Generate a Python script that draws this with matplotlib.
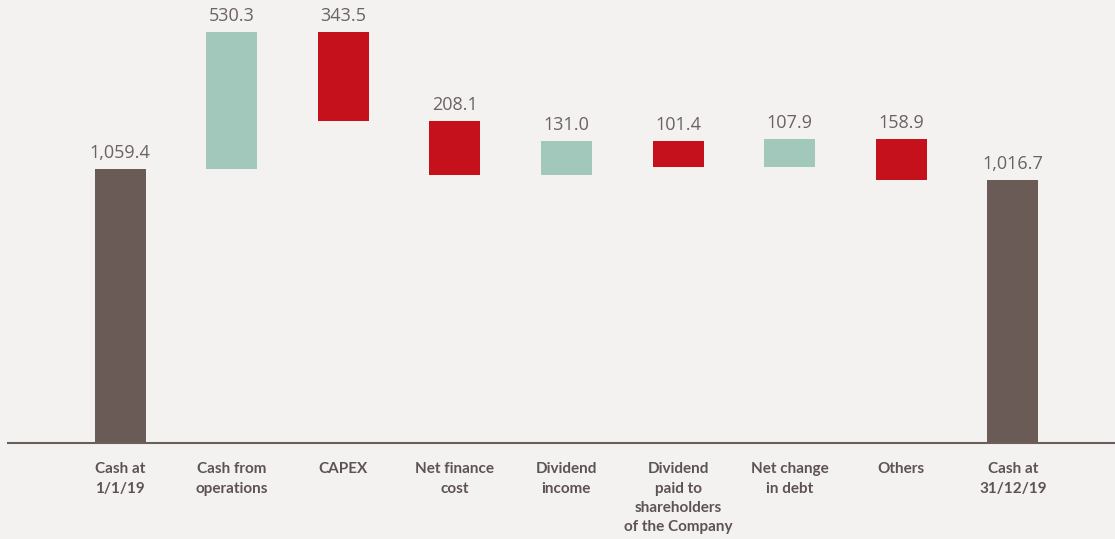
import matplotlib
matplotlib.use("Agg")
import matplotlib.pyplot as plt

categories = ["Cash at\n1/1/19", "Cash from\noperations", "CAPEX", "Net finance\ncost",
              "Dividend\nincome", "Dividend\npaid to\nshareholders\nof the Company",
              "Net change\nin debt", "Others", "Cash at\n31/12/19"]
changes = [1059.4, 530.3, -343.5, -208.1, 131.0, -101.4, 107.9, -158.9, None]
labels = ["1,059.4", "530.3", "343.5", "208.1", "131.0", "101.4", "107.9", "158.9", "1,016.7"]

BG = "#f4f2f0"
C_TOTAL = "#6b5b56"
C_POS = "#a2c8bb"
C_NEG = "#c4111b"
TXT = "#6b6262"

fig = plt.figure(figsize=(11.15, 5.39), dpi=100, facecolor=BG)
ax = fig.add_axes([8/1115, (539-443)/539, 1107/1115, 443/539])
ax.set_facecolor(BG)

running = 0.0
for i, (c, lab) in enumerate(zip(changes, labels)):
    if i == 0:
        bottom, height, col = 0, c, C_TOTAL
        running = c
    elif c is None:
        bottom, height, col = 0, running, C_TOTAL
    else:
        if c >= 0:
            bottom, height, col = running, c, C_POS
        else:
            bottom, height, col = running + c, -c, C_NEG
        running += c
    ax.bar(i, height, bottom=bottom, width=0.457, color=col, linewidth=0)
    top = bottom + height
    ax.annotate(lab, (i, top), xytext=(0, 5), textcoords="offset points",
                ha="center", va="bottom", fontsize=13, color=TXT,
                family="Open Sans", fontweight="normal")

ax.set_xlim(-1.004, 8.916)
ax.set_ylim(0, 1713)
for s in ["top", "right", "left"]:
    ax.spines[s].set_visible(False)
ax.spines["bottom"].set_color("#6b5f5c")
ax.spines["bottom"].set_linewidth(1.5)
ax.set_yticks([])
ax.set_xticks(range(len(categories)))
ax.set_xticklabels(categories, fontsize=11, fontweight="bold", color="#5e5353",
                   family="Lato", linespacing=1.47, va="top")
ax.tick_params(axis="x", length=0, pad=14)

fig.savefig("out.png", dpi=100, facecolor=BG)
